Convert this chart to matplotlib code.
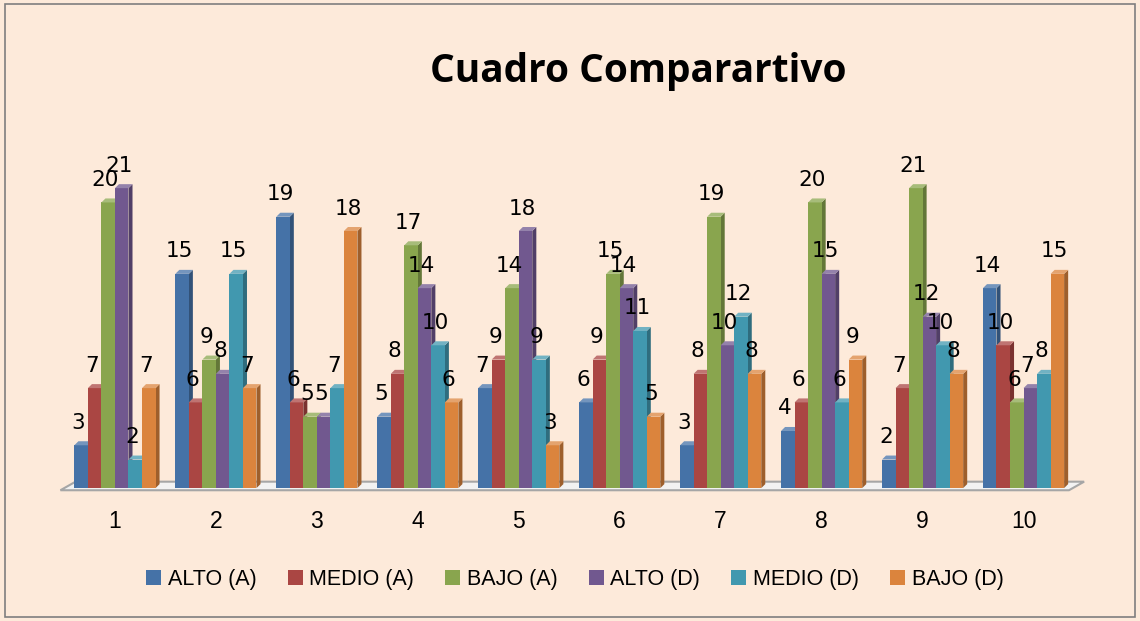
import matplotlib.pyplot as plt
from matplotlib.patches import Polygon, Rectangle
import numpy as np

# data
groups = ['1', '2', '3', '4', '5', '6', '7', '8', '9', '10']
series = ['ALTO (A)', 'MEDIO (A)', 'BAJO (A)', 'ALTO (D)', 'MEDIO (D)', 'BAJO (D)']
alto_a = [3, 15, 19, 5, 7, 6, 3, 4, 2, 14]
medio_a = [7, 6, 6, 8, 9, 9, 8, 6, 7, 10]
bajo_a = [20, 9, 5, 17, 14, 15, 19, 20, 21, 6]
alto_d = [21, 8, 5, 14, 18, 14, 10, 15, 12, 7]
medio_d = [2, 15, 7, 10, 9, 11, 12, 6, 10, 8]
bajo_d = [7, 7, 18, 6, 3, 5, 8, 9, 8, 15]
colors = ['#4572A7', '#AA4643', '#89A54E', '#71588F', '#4198AF', '#DB843D']

values = [alto_a, medio_a, bajo_a, alto_d, medio_d, bajo_d]
bg = '#FDEADA'


def shade(c, f):
    r, g, b = [int(c[i:i + 2], 16) / 255 for i in (1, 3, 5)]
    if f < 1:
        return (r * f, g * f, b * f)
    return (r + (1 - r) * (f - 1), g + (1 - g) * (f - 1), b + (1 - b) * (f - 1))


fig = plt.figure(figsize=(11.4, 6.21), dpi=100, facecolor=bg)
ax = fig.add_axes([0.053, 0.214, 0.89, 0.552])
ax.set_facecolor(bg)

x = np.arange(1, len(groups) + 1)
w = 0.134
dx = 0.04   # depth offset, x
dy = 0.28   # depth offset, y

# floor
floor = Polygon([(0.46, -0.15), (10.45, -0.15), (10.45 + 0.15, 0.45), (0.46 + 0.15, 0.45)],
                closed=True, facecolor='#F2F2F2', edgecolor='#A6A6A6', lw=1.5, zorder=0,
                clip_on=False)
ax.add_patch(floor)

for i, (name, vals, c) in enumerate(zip(series, values, colors)):
    pos = x + (i - 2.5) * w
    ax.bar(pos, vals, width=w, color=c, label=name, zorder=2 + i * 3, linewidth=0)
    for p, v in zip(pos, vals):
        r = p + w / 2
        side = Polygon([(r, 0), (r + dx, dy), (r + dx, v + dy), (r, v)],
                       closed=True, facecolor=shade(c, 0.72), lw=0, zorder=1 + i * 3)
        top = Polygon([(p - w / 2, v), (r, v), (r + dx, v + dy), (p - w / 2 + dx, v + dy)],
                      closed=True, facecolor=shade(c, 1.25), lw=0, zorder=3 + i * 3)
        ax.add_patch(side)
        ax.add_patch(top)
        ax.annotate(str(v), (p, v), xytext=(-2, 9), textcoords='offset points',
                    ha='center', va='bottom', fontsize=15.5, family='Liberation Sans Narrow',
                    zorder=40)

ax.set_xlim(0.46, 10.51)
ax.set_ylim(0, 24)
ax.set_xticks(x)
ax.set_xticklabels(groups, fontsize=16.5, family='Liberation Sans')
ax.tick_params(axis='x', length=0, pad=16)
ax.set_yticks([])
for s in ax.spines.values():
    s.set_visible(False)

fig.text(0.56, 0.885, 'Cuadro Comparartivo', ha='center', va='center',
         fontsize=28, fontweight='bold', family='Open Sans')

leg = ax.legend(loc='upper center', bbox_to_anchor=(0.507, -0.18), ncol=6, frameon=False,
                handlelength=0.7, handleheight=0.7, handletextpad=0.3, columnspacing=1.45,
                prop={'family': 'Liberation Sans', 'size': 15.5})

fig.patches.append(Rectangle((0.004, 0.006), 0.992, 0.988, transform=fig.transFigure,
                             fill=False, edgecolor='#7F7F7F', lw=1.2))

fig.savefig('out.png', dpi=100, facecolor=bg)
